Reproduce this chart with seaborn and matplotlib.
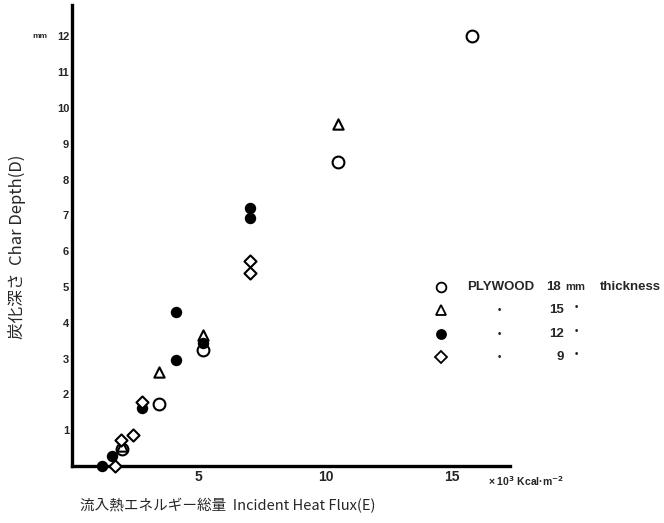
import matplotlib
matplotlib.use("Agg")
import matplotlib.pyplot as plt
from matplotlib.lines import Line2D
import seaborn as sns
import pandas as pd

# ---- data ----
x_18 = [1.98, 3.42, 5.17, 10.50, 15.80]
y_18 = [0.48, 1.73, 3.25, 8.50, 12.00]

x_15 = [1.98, 3.42, 5.17, 10.48]
y_15 = [0.56, 2.64, 3.65, 9.55]

x_12 = [1.17, 1.59, 2.75, 4.10, 4.10, 5.17, 7.02, 7.02]
y_12 = [0.00, 0.28, 1.61, 2.96, 4.30, 3.45, 6.92, 7.20]

x_9 = [1.71, 1.94, 2.39, 2.75, 7.02, 7.02]
y_9 = [0.00, 0.73, 0.87, 1.80, 5.40, 5.73]

x_ticks = [5, 10, 15]
y_ticks = [1, 2, 3, 4, 5, 6, 7, 8, 9, 10, 11, 12]

legend_thick = ["18", "15", "12", "9"]

sns.set_style("white")
plt.rcParams['font.family'] = ['Liberation Sans', 'DejaVu Sans']

W, H = 664, 523
fig = plt.figure(figsize=(W / 100, H / 100), dpi=100)
x0p, x1p, y0p, y1p = 72, 510, 466, 5
ax = fig.add_axes([x0p / W, 1 - y0p / H, (x1p - x0p) / W, (y0p - y1p) / H])
ax.set_xlim(0, 17.28)
ax.set_ylim(0, 12.88)

series = [
    (x_18, y_18, "o", "white", 72),
    (x_15, y_15, "^", "white", 55),
    (x_12, y_12, "o", "black", 45),
    (x_9, y_9, "D", "white", 38),
]
order = [2, 3, 1, 0]
for i in order:
    xs, ys, m, fc, s = series[i]
    df = pd.DataFrame({"E": xs, "D": ys})
    sns.scatterplot(data=df, x="E", y="D", marker=m, s=s, facecolor=fc,
                    edgecolor="black", linewidth=1.5, ax=ax, clip_on=False,
                    zorder=3 + i)

for side in ["top", "right"]:
    ax.spines[side].set_visible(False)
for side in ["left", "bottom"]:
    ax.spines[side].set_linewidth(2.4)
    ax.spines[side].set_color("black")

ax.set_xticks(x_ticks)
ax.set_xticklabels([str(v) for v in x_ticks], fontsize=10, fontweight="bold")
ax.set_yticks(y_ticks)
ax.set_yticklabels([str(v) for v in y_ticks], fontsize=8, fontweight="bold")
ax.tick_params(axis="x", direction="in", length=6, width=1.5, pad=3)
ax.tick_params(axis="y", direction="in", length=4, width=1.5, pad=2)
ax.set_xlabel("")
ax.set_ylabel("")

# axis labels
cjk = ['Noto Sans CJK JP', 'DejaVu Sans']
fig.text(228 / W, 1 - 506 / H, "流入熱エネルギー総量  Incident Heat Flux(E)",
         ha="center", va="center", fontsize=10.5, family=cjk)
fig.text(17 / W, 1 - 247 / H, "炭化深さ  Char Depth(D)", rotation=90,
         ha="center", va="center", fontsize=12, family=cjk)

# units
fig.text(488 / W, 1 - 481 / H, "× 10$^{\\mathbf{3}}$ Kcal·m$^{\\mathbf{-2}}$",
         ha="left", va="center", fontsize=7.5, fontweight="bold")
fig.text(40 / W, 1 - 36 / H, "mm", ha="center", va="center",
         fontsize=6, fontweight="bold")

# legend (hand-laid like the original)
fs = 9.5
leg_rows = [287, 310, 334, 357]
leg_markers = [("o", "white", 7), ("^", "white", 7), ("o", "black", 6.5), ("D", "white", 6)]
for (m, fc, ms), yp in zip(leg_markers, leg_rows):
    fig.add_artist(Line2D([441 / W], [1 - yp / H], marker=m, markersize=ms,
                          markerfacecolor=fc, markeredgecolor="black",
                          markeredgewidth=1.3, linestyle="none"))
fig.text(467 / W, 1 - leg_rows[0] / H, "PLYWOOD", ha="left", va="center",
         fontsize=fs, fontweight="bold")
fig.text(561 / W, 1 - leg_rows[0] / H, legend_thick[0], ha="right",
         va="center", fontsize=fs, fontweight="bold")
fig.text(565 / W, 1 - leg_rows[0] / H, "mm", ha="left",
         va="center", fontsize=fs - 1.5, fontweight="bold")
fig.text(600 / W, 1 - leg_rows[0] / H, "thickness", ha="left", va="center",
         fontsize=fs, fontweight="bold")
for t, yp in zip(legend_thick[1:], leg_rows[1:]):
    fig.text(499 / W, 1 - yp / H, "•", ha="center", va="center",
             fontsize=7, fontweight="bold")
    fig.text(564 / W, 1 - yp / H, t, ha="right", va="center",
             fontsize=fs, fontweight="bold")
    fig.text(576 / W, 1 - (yp - 3) / H, "•", ha="center", va="center",
             fontsize=7, fontweight="bold")

fig.savefig("out.png", dpi=100, facecolor="white")
